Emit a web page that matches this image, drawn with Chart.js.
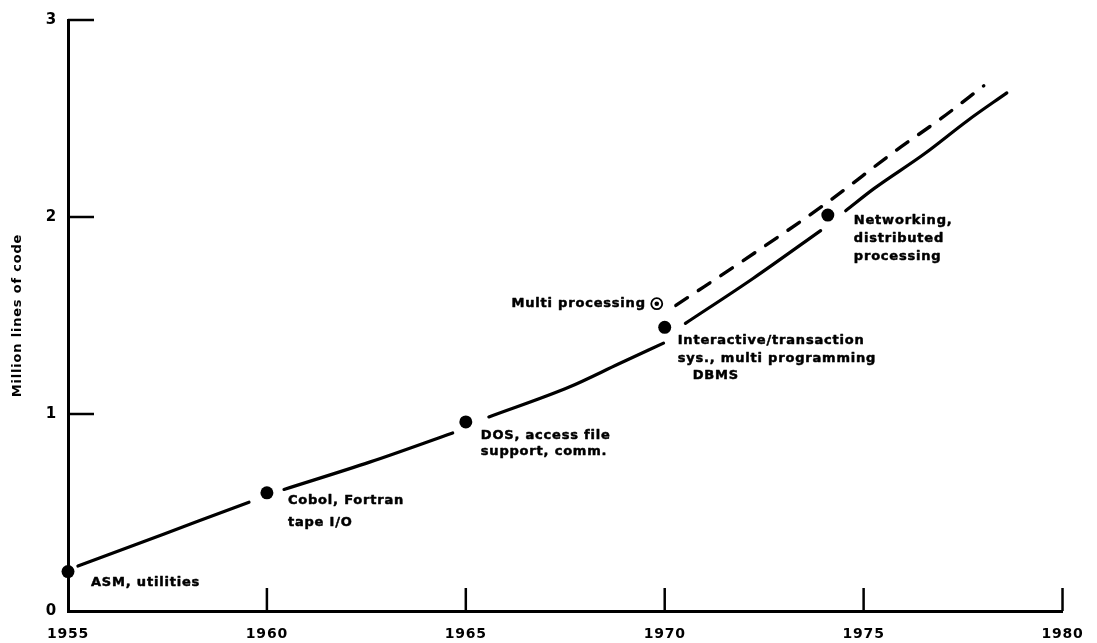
<!DOCTYPE html>
<html><head><meta charset="utf-8">
<script src="https://cdn.jsdelivr.net/npm/chart.js@4.4.1/dist/chart.umd.min.js"></script>
<style>html,body{margin:0;padding:0;background:#fff;} #wrap{width:1097px;height:643px;}</style>
</head><body><div id="wrap"><canvas id="c" width="1097" height="643"></canvas></div>
<script>
// ---- data ----
const xTicks = [1955, 1960, 1965, 1970, 1975, 1980];
const yTicks = [0, 1, 2, 3];
const yTitle = 'Million lines of code';

const milestoneYears  = [1955, 1960, 1965, 1970, 1974.1];
const milestoneValues = [0.2, 0.6, 0.96, 1.44, 2.01];
const milestoneLabels = [
  ['ASM, utilities'],
  ['Cobol, Fortran', 'tape I/O'],
  ['DOS, access file', 'support, comm.'],
  ['Interactive/transaction', 'sys., multi programming', 'DBMS'],
  ['Networking,', 'distributed', 'processing']
];

const multiYears  = [1969.8];
const multiValues = [1.56];
const multiLabels = ['Multi processing'];

// solid trend (null = break in the drawn line around a milestone)
const trendYears  = [1955.25, 1957.4, 1959.55, 1960, 1960.43, 1962.6, 1964.67, 1965, 1965.58, 1967.6, 1968.85, 1969.97, 1970.2, 1970.52, 1972.22, 1973.92, 1974.2, 1974.55, 1975.26, 1976.53, 1977.61, 1978.6];
const trendValues = [0.228, 0.39, 0.552, null, 0.617, 0.757, 0.904, null, 0.985, 1.137, 1.255, 1.36, null, 1.46, 1.688, 1.931, null, 2.032, 2.144, 2.321, 2.489, 2.63];

// dashed trend (with multi processing)
const multiTrendYears  = [1970.28, 1972.35, 1974.05, 1975.81, 1976.94, 1978.02];
const multiTrendValues = [1.551, 1.83, 2.068, 2.337, 2.499, 2.666];

// ---- styles ----
const FONT = 'DejaVu Sans';
const LETTER_SPACING = '0.8px';
const labelStyle = [
  {dx: 23, dy: 14, lh: 20, indent: [0]},
  {dx: 21, dy: 11, lh: 22, indent: [0, 0]},
  {dx: 15, dy: 17, lh: 16.5, indent: [0, 0]},
  {dx: 13, dy: 17, lh: 17.5, indent: [0, 0, 15]},
  {dx: 26, dy: 9, lh: 18, indent: [0, 0, 0]}
];
const multiLabelStyle = {dx: -11, dy: 3};
const TICK_LEN_Y = 26, TICK_LEN_X = 23;

const toPts = (xs, ys) => xs.map((x, i) => ({x: x, y: ys[i]}));

const spacingPlugin = {
  id: 'spacing',
  beforeDraw(chart) {
    const ctx = chart.ctx;
    ctx.save();
    ctx.fillStyle = '#fff';
    ctx.fillRect(0, 0, chart.width, chart.height);
    ctx.restore();
    if ('letterSpacing' in ctx) ctx.letterSpacing = LETTER_SPACING;
  }
};

const tickMarks = {
  id: 'tickMarks',
  afterDraw(chart) {
    const {ctx, scales: {x, y}, chartArea: a} = chart;
    ctx.save();
    ctx.strokeStyle = '#000';
    ctx.lineWidth = 2.5;
    yTicks.forEach(v => {
      if (v === yTicks[0]) return;
      const py = y.getPixelForValue(v);
      ctx.beginPath(); ctx.moveTo(a.left, py); ctx.lineTo(a.left + TICK_LEN_Y, py); ctx.stroke();
    });
    xTicks.forEach(v => {
      if (v === xTicks[0]) return;
      const px = x.getPixelForValue(v);
      ctx.beginPath(); ctx.moveTo(px, a.bottom); ctx.lineTo(px, a.bottom - TICK_LEN_X); ctx.stroke();
    });
    ctx.restore();
  }
};

const annotations = {
  id: 'annotations',
  afterDatasetsDraw(chart) {
    const {ctx, scales: {x, y}} = chart;
    ctx.save();
    if ('letterSpacing' in ctx) ctx.letterSpacing = LETTER_SPACING;
    ctx.fillStyle = '#000';
    ctx.strokeStyle = '#000';
    ctx.lineWidth = 0.5;
    ctx.lineJoin = 'round';
    ctx.font = 'bold 13px "' + FONT + '"';
    ctx.textBaseline = 'alphabetic';
    ctx.textAlign = 'left';
    const put = (t, px, py) => { ctx.fillText(t, px, py); ctx.strokeText(t, px, py); };
    milestoneLabels.forEach((lines, i) => {
      const st = labelStyle[i];
      const px = x.getPixelForValue(milestoneYears[i]);
      const py = y.getPixelForValue(milestoneValues[i]);
      lines.forEach((t, j) => {
        put(t, px + st.dx + (st.indent[j] || 0), py + st.dy + j * st.lh);
      });
    });
    ctx.textAlign = 'right';
    multiLabels.forEach((t, i) => {
      const px = x.getPixelForValue(multiYears[i]);
      const py = y.getPixelForValue(multiValues[i]);
      put(t, px + multiLabelStyle.dx, py + multiLabelStyle.dy);
    });
    ctx.restore();
  }
};

Chart.defaults.font.family = FONT;
Chart.defaults.color = '#000';

new Chart(document.getElementById('c'), {
  type: 'line',
  data: {
    datasets: [
      {
        data: toPts(trendYears, trendValues),
        borderColor: '#000', borderWidth: 3.2, pointRadius: 0,
        cubicInterpolationMode: 'monotone', spanGaps: false, fill: false,
        borderCapStyle: 'round'
      },
      {
        data: toPts(multiTrendYears, multiTrendValues),
        borderColor: '#000', borderWidth: 3.4, pointRadius: 0,
        borderDash: [14, 13], borderCapStyle: 'round',
        cubicInterpolationMode: 'monotone', fill: false
      },
      {
        data: toPts(milestoneYears, milestoneValues),
        showLine: false, pointRadius: 6.5, pointBackgroundColor: '#000',
        pointBorderWidth: 0, clip: false
      },
      {
        data: toPts(multiYears, multiValues),
        showLine: false, pointRadius: 2.3, pointBackgroundColor: '#000',
        pointBorderWidth: 0, clip: false
      },
      {
        data: toPts(multiYears, multiValues),
        showLine: false, pointRadius: 5.5, pointBackgroundColor: '#fff',
        pointBorderColor: '#000', pointBorderWidth: 1.8, clip: false
      }
    ]
  },
  options: {
    responsive: false,
    devicePixelRatio: 1,
    animation: false,
    events: [],
    layout: {padding: {left: 0, top: 19, right: 24, bottom: 0}},
    plugins: {legend: {display: false}, tooltip: {enabled: false}},
    scales: {
      x: {
        type: 'linear', min: xTicks[0], max: xTicks[xTicks.length - 1],
        afterBuildTicks: s => { s.ticks = xTicks.map(v => ({value: v})); },
        afterFit: s => { s.height = 32; },
        grid: {display: false, drawTicks: false},
        border: {display: true, color: '#000', width: 3},
        ticks: {font: {size: 14, weight: 'bold'}, color: '#000', padding: 15,
                callback: v => String(v), maxRotation: 0, autoSkip: false}
      },
      y: {
        type: 'linear', min: yTicks[0], max: yTicks[yTicks.length - 1],
        afterBuildTicks: s => { s.ticks = yTicks.map(v => ({value: v})); },
        afterFit: s => { s.width = 68; },
        grid: {display: false, drawTicks: false},
        border: {display: true, color: '#000', width: 3},
        ticks: {font: {size: 15, weight: 'bold'}, color: '#000', padding: 11,
                callback: v => String(v)},
        title: {display: true, text: yTitle, color: '#000',
                font: {size: 13, weight: 'bold'}, padding: {top: 10, bottom: 0}}
      }
    }
  },
  plugins: [spacingPlugin, tickMarks, annotations]
});
</script>
</body></html>
